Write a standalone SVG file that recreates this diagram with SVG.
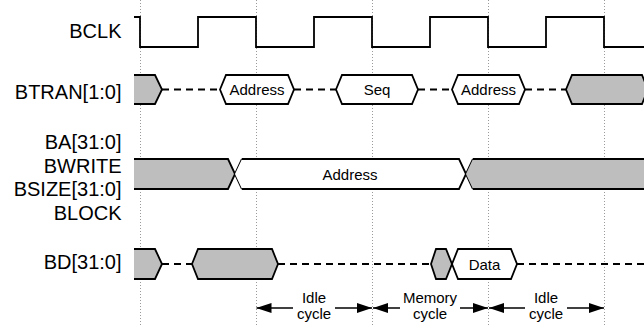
<svg xmlns="http://www.w3.org/2000/svg" width="644" height="326" viewBox="0 0 644 326">
<style>
.lbl{font-family:"Liberation Sans",Arial,sans-serif;font-size:20px;fill:#000;text-anchor:end}
.t{font-family:"Liberation Sans",Arial,sans-serif;font-size:15px;fill:#000;text-anchor:middle}
.grid{stroke:#9a9a9a;stroke-width:1;stroke-dasharray:1,2;fill:none}
.sig{stroke:#000;stroke-width:1.8;fill:none;stroke-linejoin:miter}
.g{fill:#bebebe;stroke:none}
.w{fill:#fff;stroke:#000;stroke-width:1.8}
.gs{fill:#bebebe;stroke:#000;stroke-width:1.8}
.dash{stroke:#000;stroke-width:1.8;stroke-dasharray:7,5;fill:none}
.arr{stroke:#000;stroke-width:1.5;fill:none}
</style>
<defs>
<marker id="ah" markerUnits="userSpaceOnUse" markerWidth="15" markerHeight="10" refX="15" refY="5" orient="auto">
<path d="M0,0 L15,5 L0,10 z" fill="#000"/>
</marker>
</defs>
<rect width="644" height="326" fill="#fff"/>
<g id="grid">
<line class="grid" x1="140.5" y1="0" x2="140.5" y2="326"/>
<line class="grid" x1="256.5" y1="0" x2="256.5" y2="326"/>
<line class="grid" x1="372.5" y1="0" x2="372.5" y2="326"/>
<line class="grid" x1="488.5" y1="0" x2="488.5" y2="326"/>
<line class="grid" x1="604.5" y1="0" x2="604.5" y2="326"/>
</g>
<g id="labels">
<text class="lbl" x="121.5" y="38">BCLK</text>
<text class="lbl" x="121.5" y="98.5">BTRAN[1:0]</text>
<text class="lbl" x="121.5" y="148.8">BA[31:0]</text>
<text class="lbl" x="121.5" y="172.5">BWRITE</text>
<text class="lbl" x="121.5" y="196.3">BSIZE[31:0]</text>
<text class="lbl" x="121.5" y="220">BLOCK</text>
<text class="lbl" x="121.5" y="268.5">BD[31:0]</text>
</g>
<g id="bclk">
<path class="sig" d="M134,17 H140 V47 H198 V17 H256 V47 H314 V17 H372 V47 H430 V17 H488 V47 H546 V17 H604 V47 H646"/>
</g>
<g id="btran">
<path class="g" d="M134,75 H155 L162,89.5 L155,104 H134 Z"/>
<path class="sig" d="M134,75 H155 L162,89.5 L155,104 H134"/>
<line class="dash" x1="162" y1="89.5" x2="220" y2="89.5"/>
<polygon class="w" points="220,89.5 226,75 288,75 294,89.5 288,104 226,104"/>
<text class="t" x="257" y="95">Address</text>
<line class="dash" x1="294" y1="89.5" x2="336" y2="89.5"/>
<polygon class="w" points="336,89.5 342,75 412,75 418,89.5 412,104 342,104"/>
<text class="t" x="377" y="95">Seq</text>
<line class="dash" x1="418" y1="89.5" x2="452" y2="89.5"/>
<polygon class="w" points="452,89.5 458,75 519,75 525,89.5 519,104 458,104"/>
<text class="t" x="488.5" y="95">Address</text>
<line class="dash" x1="525" y1="89.5" x2="566" y2="89.5"/>
<polygon class="gs" points="566,89.5 572,75 642,75 648,89.5 642,104 572,104"/>
</g>
<g id="ba">
<path class="g" d="M134,159 H228 L235,174 L228,189 H134 Z"/>
<path class="sig" d="M134,159 H228 L242,189"/>
<path class="sig" d="M134,189 H228 L242,159"/>
<path fill="#fff" d="M235,174 L242,159 H459 L466,174 L459,189 H242 Z"/>
<path class="sig" d="M242,159 H459 L473,189"/>
<path class="sig" d="M242,189 H459 L473,159"/>
<text class="t" x="350" y="179.5">Address</text>
<path class="g" d="M466,174 L473,159 H646 V189 H473 Z"/>
<path class="sig" d="M473,159 H646"/>
<path class="sig" d="M473,189 H646"/>
</g>
<g id="bd">
<path class="g" d="M134,249 H155 L162,264 L155,279 H134 Z"/>
<path class="sig" d="M134,249 H155 L162,264 L155,279 H134"/>
<line class="dash" x1="162" y1="264" x2="192" y2="264"/>
<polygon class="gs" points="192,264 198,249 272,249 278,264 272,279 198,279"/>
<line class="dash" x1="278" y1="264" x2="431" y2="264"/>
<polygon class="gs" points="431,264 436,249 446,249 452,264 446,279 436,279"/>
<polygon class="w" points="452,264 458,249 511,249 517,264 511,279 458,279"/>
<text class="t" x="484.5" y="269.5">Data</text>
<line class="dash" x1="517" y1="264" x2="646" y2="264"/>
</g>
<g id="connectors">
<line class="arr" x1="293" y1="308" x2="256.5" y2="308" marker-end="url(#ah)"/>
<line class="arr" x1="335" y1="308" x2="372" y2="308" marker-end="url(#ah)"/>
<line class="arr" x1="400" y1="308" x2="373" y2="308" marker-end="url(#ah)"/>
<line class="arr" x1="460" y1="308" x2="488" y2="308" marker-end="url(#ah)"/>
<line class="arr" x1="525" y1="308" x2="489" y2="308" marker-end="url(#ah)"/>
<line class="arr" x1="567" y1="308" x2="604" y2="308" marker-end="url(#ah)"/>
</g>
<g id="cycle-labels">
<text class="t" x="314" y="303">Idle</text>
<text class="t" x="314" y="319">cycle</text>
<text class="t" x="430" y="303">Memory</text>
<text class="t" x="430" y="319">cycle</text>
<text class="t" x="546" y="303">Idle</text>
<text class="t" x="546" y="319">cycle</text>
</g>
</svg>
